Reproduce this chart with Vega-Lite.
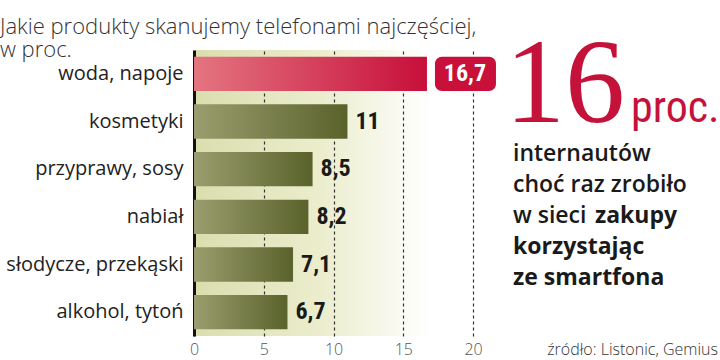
{
  "$schema": "https://vega.github.io/schema/vega-lite/v6.json",
  "padding": {"left": 0, "top": 16, "right": 0, "bottom": 4},
  "background": "white",
  "bounds": "flush",
  "spacing": 40,
  "config": {
    "font": "Roboto",
    "view": {"stroke": null},
    "locale": {"number": {"decimal": ",", "thousands": " ", "grouping": [3], "currency": ["", " zł"]}}
  },
  "datasets": {
    "products": [
      {"category": "woda, napoje", "value": 16.7, "highlight": true},
      {"category": "kosmetyki", "value": 11, "highlight": false},
      {"category": "przyprawy, sosy", "value": 8.5, "highlight": false},
      {"category": "nabiał", "value": 8.2, "highlight": false},
      {"category": "słodycze, przekąski", "value": 7.1, "highlight": false},
      {"category": "alkohol, tytoń", "value": 6.7, "highlight": false}
    ],
    "notes": [
      {"line": 1, "part": 0, "text": "internautów", "emph": false},
      {"line": 2, "part": 0, "text": "choć raz zrobiło", "emph": false},
      {"line": 3, "part": 0, "text": "w sieci", "emph": false},
      {"line": 3, "part": 1, "text": "zakupy", "emph": true},
      {"line": 4, "part": 0, "text": "korzystając", "emph": true},
      {"line": 5, "part": 0, "text": "ze smartfona", "emph": true}
    ],
    "headline": [
      {"line": 1, "part": 0, "number": "16", "unit": "proc."}
    ]
  },
  "hconcat": [
    {
      "width": 279,
      "height": 286,
      "title": {
        "text": ["Jakie produkty skanujemy telefonami najczęściej,", "w proc."],
        "anchor": "start",
        "frame": "group",
        "dx": -194,
        "fontSize": 22,
        "fontWeight": 300,
        "color": "#333333",
        "font": "Open Sans",
        "lineHeight": 23,
        "baseline": "alphabetic",
        "offset": -29
      },
      "view": {
        "stroke": null,
        "fill": {
          "gradient": "linear", "x1": 0, "y1": 0, "x2": 1, "y2": 0,
          "stops": [
            {"offset": 0, "color": "#dadeae"},
            {"offset": 0.45, "color": "#ebedcd"},
            {"offset": 0.85, "color": "#ffffff"},
            {"offset": 1, "color": "#ffffff"}
          ]
        }
      },
      "data": {"name": "products"},
      "encoding": {
        "y": {
          "field": "category", "type": "nominal", "sort": null,
          "scale": {"paddingInner": 0.28, "paddingOuter": 0.14},
          "axis": {
            "title": null, "labelFontSize": 20, "labelColor": "#222222", "labelPadding": 11,
            "ticks": false, "domain": true, "domainColor": "#111111", "domainWidth": 3,
            "labelFont": "Open Sans", "labelLimit": 300
          }
        },
        "x": {
          "field": "value", "type": "quantitative",
          "scale": {"domain": [0, 20], "nice": false},
          "axis": {
            "title": null, "values": [0, 5, 10, 15, 20], "grid": true, "gridDash": [3, 3],
            "gridColor": "#333333", "gridWidth": 1.2, "domain": false, "ticks": false,
            "labelFont": "Open Sans", "labelFontSize": 16, "labelColor": "#555555", "labelFontWeight": 300,
            "labelPadding": 5, "labelFlush": false, "format": "d"
          }
        }
      },
      "layer": [
        {
          "mark": {"type": "bar"},
          "encoding": {
            "color": {
              "condition": {
                "test": "datum.highlight",
                "value": {"gradient": "linear", "x1": 0, "y1": 0, "x2": 1, "y2": 0,
                  "stops": [{"offset": 0, "color": "#e47580"}, {"offset": 1, "color": "#c70f3a"}]}
              },
              "value": {"gradient": "linear", "x1": 0, "y1": 0, "x2": 1, "y2": 0,
                "stops": [{"offset": 0, "color": "#9a9e6e"}, {"offset": 1, "color": "#5a622b"}]}
            }
          }
        },
        {
          "transform": [{"filter": "datum.highlight"}],
          "mark": {"type": "bar", "xOffset": 8, "x2Offset": 69, "cornerRadius": 7, "color": "#c8103a"},
          "encoding": {
            "x2": {"field": "value"}
          }
        },
        {
          "transform": [{"filter": "!datum.highlight"}],
          "mark": {"type": "text", "align": "left", "baseline": "middle", "dx": 8,
            "font": "Liberation Sans Narrow, Roboto Condensed, Roboto", "fontWeight": "bold",
            "fontSize": 24, "color": "#1a1a1a"},
          "encoding": {"text": {"field": "value", "type": "quantitative", "format": ".1~f"}}
        },
        {
          "transform": [{"filter": "datum.highlight"}],
          "mark": {"type": "text", "align": "center", "baseline": "middle", "dx": 38,
            "font": "Liberation Sans Narrow, Roboto Condensed, Roboto", "fontWeight": "bold",
            "fontSize": 24, "color": "#ffffff"},
          "encoding": {"text": {"field": "value", "type": "quantitative", "format": ".1~f"}}
        }
      ]
    },
    {
      "width": 205,
      "height": 286,
      "title": {
        "text": "źródło: Listonic, Gemius",
        "orient": "bottom", "anchor": "end", "frame": "group",
        "fontSize": 16, "fontWeight": 300, "color": "#333333", "font": "Open Sans", "offset": 6
      },
      "encoding": {
        "y": {"field": "line", "type": "ordinal", "scale": {"type": "point", "range": [111, 235], "padding": 0}, "axis": null},
        "x": {"field": "part", "type": "ordinal", "scale": {"type": "point", "range": [0, 82], "padding": 0}, "axis": null}
      },
      "layer": [
        {
          "data": {"name": "headline"},
          "mark": {"type": "text", "align": "left", "baseline": "alphabetic", "dy": -39, "dx": -8,
            "font": "Liberation Serif", "fontSize": 120, "color": "#c5123a"},
          "encoding": {"text": {"field": "number"}}
        },
        {
          "data": {"name": "headline"},
          "mark": {"type": "text", "align": "left", "baseline": "alphabetic", "dy": -39, "dx": 118,
            "font": "Liberation Sans Narrow, Roboto Condensed, Roboto", "fontSize": 44, "color": "#c5123a"},
          "encoding": {"text": {"field": "unit"}}
        },
        {
          "data": {"name": "notes"},
          "transform": [{"filter": "!datum.emph"}],
          "mark": {"type": "text", "align": "left", "baseline": "alphabetic",
            "font": "Open Sans", "fontWeight": 600, "fontSize": 23, "color": "#1a1a1a"},
          "encoding": {"text": {"field": "text"}}
        },
        {
          "data": {"name": "notes"},
          "transform": [{"filter": "datum.emph"}],
          "mark": {"type": "text", "align": "left", "baseline": "alphabetic",
            "font": "Open Sans", "fontWeight": "bold", "fontSize": 23, "color": "#1a1a1a"},
          "encoding": {"text": {"field": "text"}}
        }
      ]
    }
  ]
}
